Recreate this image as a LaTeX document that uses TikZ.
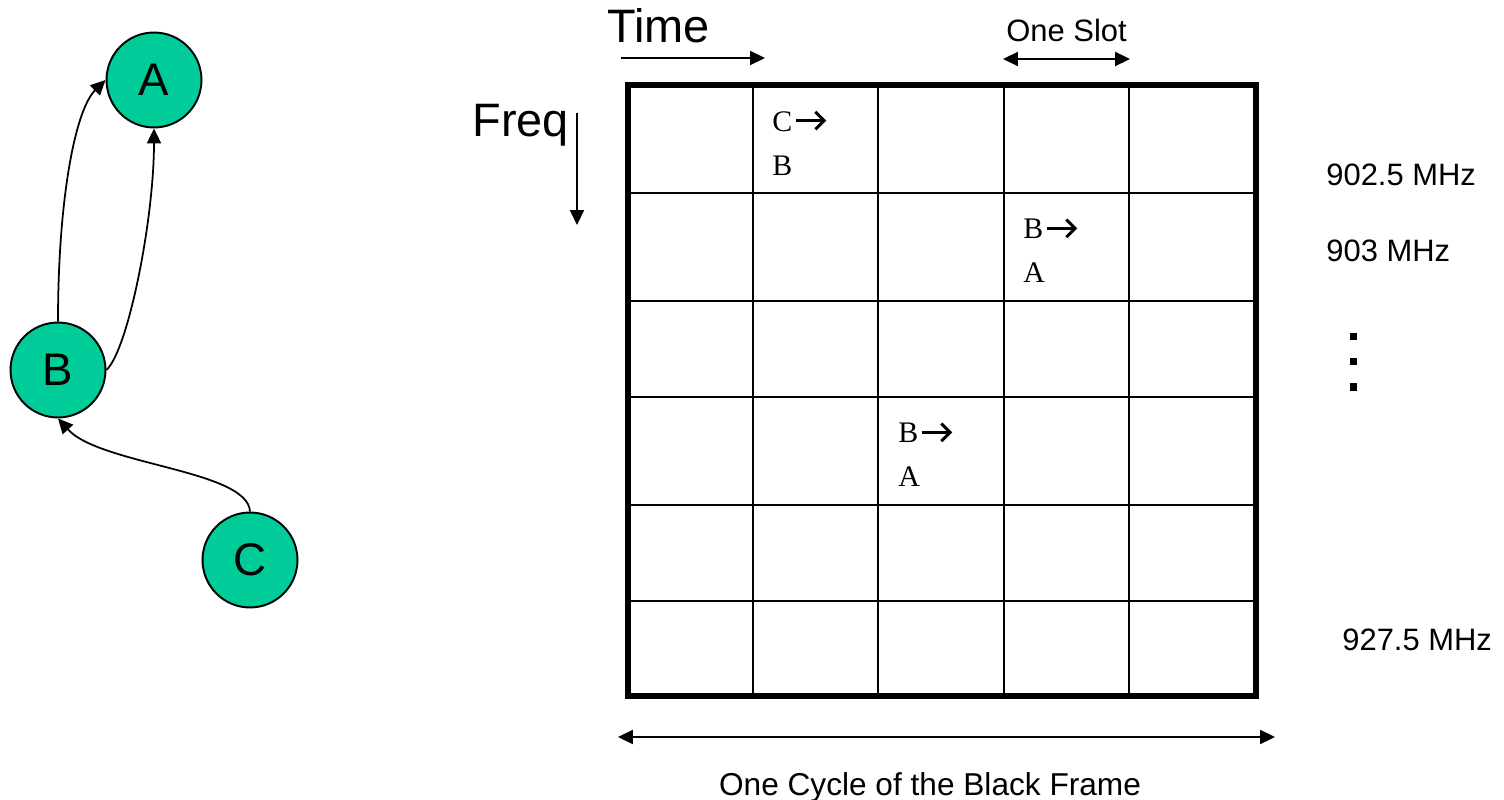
\documentclass[tikz,border=0pt]{standalone}
\usepackage{fontspec}
\setmainfont{Liberation Sans}
\newfontfamily\cellfont{Liberation Serif}
\usetikzlibrary{arrows.meta}
\definecolor{stgreen}{RGB}{0,204,153}
\newcommand\cellarr{\hspace{1.5pt}\smash{\tikz[baseline=-6pt]\draw[line width=1.7pt,-{Straight Barb[length=5pt,width=10pt]}] (0pt,0pt) -- (17pt,0pt);}}

\begin{document}
\begin{tikzpicture}[x=0.02cm,y=-0.02cm,
  every node/.style={inner sep=0pt,font=\fontsize{17.6}{21}\selectfont},
  st/.style={circle,draw=black,line width=1.1pt,fill=stgreen,minimum size=1.9cm,font=\fontsize{26}{30}\selectfont},
  big/.style={anchor=base west,font=\fontsize{26.7}{32}\selectfont},
  lbl/.style={anchor=base west},
  cell/.style={anchor=north west,align=left,font=\cellfont\fontsize{17}{25}\selectfont},
  cl/.style={line width=1.1pt},
  frame/.style={line width=3pt},
  ar/.style={-{Triangle[length=8.5pt,width=8pt]},line width=1pt},
  dar/.style={{Triangle[length=8.5pt,width=8pt]}-{Triangle[length=8.5pt,width=8pt]},line width=1pt}]
\useasboundingbox (0,0) rectangle (1504,800);
% stations
\node[st] (a) at (154,80) {A};
\node[st] (b) at (58,370) {B};
\node[st] (c) at (250,560) {C};
\draw[ar] (b.north) .. controls (58,200) and (75,110) .. (a.west);
\draw[ar] (b.east) .. controls (128,350) and (154,220) .. (a.south);
\draw[ar] (c.north) .. controls (248,470) and (100,465) .. (b.south);
% axes
\node[big] (time) at (607,43) {Time};
\node[big] (freq) at (472,137) {Freq};
\coordinate (t0) at (621,58);
\coordinate (t1) at (765,58);
\coordinate (f0) at (577,113);
\coordinate (f1) at (577,225);
\draw[ar] (t0) -- (t1);
\draw[ar] (f0) -- (f1);
\node[lbl] (slot) at (1006,42) {One Slot};
\coordinate (s0) at (1003,59);
\coordinate (s1) at (1130,59);
\draw[dar] (s0) -- (s1);
% hopping grid
\draw[cl] (753,85) -- (753,696) (878,85) -- (878,696) (1004,85) -- (1004,696) (1129,85) -- (1129,696);
\draw[cl] (628,193) -- (1256,193) (628,301) -- (1256,301) (628,397) -- (1256,397) (628,505) -- (1256,505) (628,601) -- (1256,601);
\draw[frame] (628,85) rectangle (1256,696);
\node[cell] (cb) at (772,111) {C\cellarr\\B};
\node[cell] (ba1) at (1023,219) {B\cellarr\\A};
\node[cell] (ba2) at (898,423) {B\cellarr\\A};
% channels
\node[lbl] (ch1) at (1326,186) {902.5 MHz};
\node[lbl] (ch2) at (1326,262) {903 MHz};
\fill (1349.5,333.5) rectangle ++(7,7);
\fill (1349.5,358.5) rectangle ++(7,7);
\fill (1349.5,383.5) rectangle ++(7,7);
\node[lbl] (ch3) at (1342,650) {927.5 MHz};
% frame cycle
\coordinate (c0) at (618,737);
\coordinate (c1) at (1275,737);
\draw[dar] (c0) -- (c1);
\node[anchor=base,font=\fontsize{18}{22}\selectfont] (cycle) at (930,795) {One Cycle of the Black Frame};
\end{tikzpicture}
\end{document}
